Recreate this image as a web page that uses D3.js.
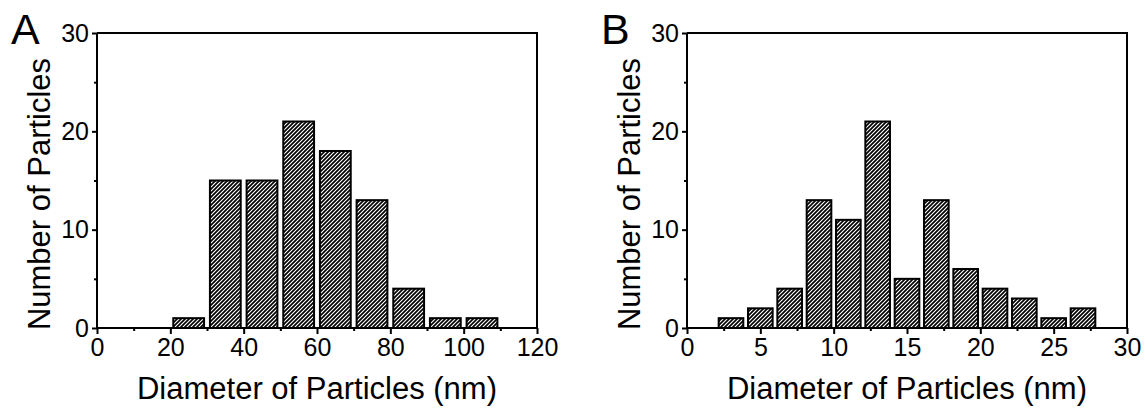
<!DOCTYPE html>
<html>
<head>
<meta charset="utf-8">
<script src="https://cdn.jsdelivr.net/npm/d3@7"></script>
<style>
  html, body { margin: 0; padding: 0; background: #fff; }
  svg { display: block; font-family: "Liberation Sans", Arial, sans-serif; }
</style>
</head>
<body>
<svg id="chart" width="1145" height="409"></svg>
<script>
// Histogram data: left edge of each bin and the particle count in it
const binStartsA = [20, 30, 40, 50, 60, 70, 80, 90, 100];
const countsA    = [1, 15, 15, 21, 18, 13, 4, 1, 1];
const binStartsB = [2, 4, 6, 8, 10, 12, 14, 16, 18, 20, 22, 24, 26];
const countsB    = [1, 2, 4, 13, 11, 21, 5, 13, 6, 4, 3, 1, 2];

// Axis ticks
const xTicksA = [0, 20, 40, 60, 80, 100, 120];
const xMinorA = [10, 30, 50, 70, 90, 110];
const xTicksB = [0, 5, 10, 15, 20, 25, 30];
const xMinorB = [2.5, 7.5, 12.5, 17.5, 22.5, 27.5];
const yTicks  = [0, 10, 20, 30];
const yMinor  = [5, 15, 25];

const panels = [
  { letter: "A", left: 97,  binStarts: binStartsA, counts: countsA, binWidth: 10,
    xMax: 120, xTicks: xTicksA, xMinor: xMinorA },
  { letter: "B", left: 687, binStarts: binStartsB, counts: countsB, binWidth: 2,
    xMax: 30, xTicks: xTicksB, xMinor: xMinorB }
];

const svg = d3.select("#chart");
const plotW = 440, plotTop = 33, plotBottom = 328;

// Diagonal hatch fill
const defs = svg.append("defs");
const pat = defs.append("pattern")
  .attr("id", "hatch")
  .attr("patternUnits", "userSpaceOnUse")
  .attr("width", 4).attr("height", 4);
pat.append("rect").attr("width", 4).attr("height", 4).attr("fill", "#fff");
pat.append("path")
  .attr("d", "M-1,1 l2,-2 M0,4 l4,-4 M3,5 l2,-2")
  .attr("stroke", "#000").attr("stroke-width", 1.7);

panels.forEach(p => {
  const x = d3.scaleLinear().domain([0, p.xMax]).range([p.left, p.left + plotW]);
  const y = d3.scaleLinear().domain([0, 30]).range([plotBottom, plotTop]);
  const g = svg.append("g");

  // bars
  const frac = 0.84;
  g.selectAll("rect.bar")
    .data(p.counts.map((c, i) => ({ start: p.binStarts[i], count: c })))
    .join("rect")
    .attr("class", "bar")
    .attr("x", d => x(d.start + p.binWidth * (1 - frac) / 2))
    .attr("width", d => x(p.binWidth * frac) - x(0))
    .attr("y", d => y(d.count))
    .attr("height", d => y(0) - y(d.count))
    .attr("fill", "url(#hatch)")
    .attr("stroke", "#000")
    .attr("stroke-width", 2);

  // frame (top and right edges)
  g.append("path")
    .attr("d", `M${x(0)},${y(30)} H${x(p.xMax)} V${y(0)}`)
    .attr("fill", "none").attr("stroke", "#000").attr("stroke-width", 2);

  // bottom axis
  const xAxis = g.append("g").attr("transform", `translate(0,${plotBottom})`)
    .call(d3.axisBottom(x).tickValues(p.xTicks).tickSize(6).tickPadding(4)
      .tickFormat(d3.format("d")));
  g.append("g").attr("transform", `translate(0,${plotBottom})`)
    .call(d3.axisBottom(x).tickValues(p.xMinor).tickSize(3).tickFormat(""))
    .call(a => a.select(".domain").remove());

  // left axis
  const yAxis = g.append("g").attr("transform", `translate(${p.left},0)`)
    .call(d3.axisLeft(y).tickValues(yTicks).tickSize(5).tickPadding(3)
      .tickFormat(d3.format("d")));
  g.append("g").attr("transform", `translate(${p.left},0)`)
    .call(d3.axisLeft(y).tickValues(yMinor).tickSize(3).tickFormat(""))
    .call(a => a.select(".domain").remove());

  g.selectAll(".domain").attr("stroke", "#000").attr("stroke-width", 2);
  g.selectAll(".tick line").attr("stroke", "#000").attr("stroke-width", 2);
  g.selectAll(".tick text").attr("fill", "#000")
    .style("font-size", "25px")
    .style("font-family", "'Liberation Sans', Arial, sans-serif");
  // plain axis lines without the end caps
  xAxis.select(".domain").attr("d", `M${x(0)},0 H${x(p.xMax)}`);
  yAxis.select(".domain").attr("d", `M0,${y(0)} V${y(30)}`);

  // axis titles
  g.append("text")
    .attr("x", x(p.xMax / 2)).attr("y", 399)
    .attr("text-anchor", "middle")
    .style("font-size", "31px")
    .text("Diameter of Particles (nm)");
  g.append("text")
    .attr("transform", `translate(${p.left - 47},194) rotate(-90)`)
    .attr("text-anchor", "middle")
    .style("font-size", "31px")
    .text("Number of Particles");

  // panel letter
  g.append("text")
    .attr("x", p.left - 86).attr("y", 44)
    .style("font-size", "43px")
    .text(p.letter);
});
</script>
</body>
</html>
